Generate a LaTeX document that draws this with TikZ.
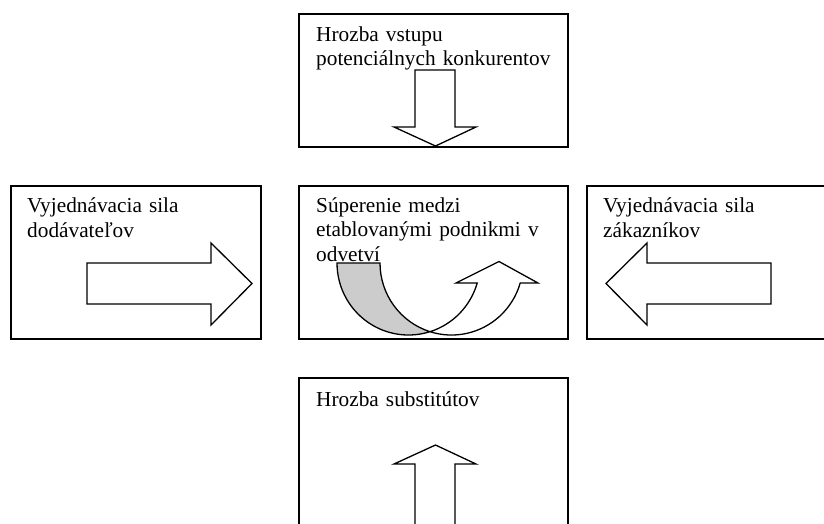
\documentclass[tikz,border=0pt]{standalone}
\usepackage{fontspec}
\setmainfont{Liberation Serif}
\definecolor{bandgray}{RGB}{204,204,204}
\begin{document}
\begin{tikzpicture}[x=1pt,y=-1pt,
  box/.style={draw, line width=2pt, inner sep=0pt, anchor=north west},
  label/.style={anchor=base west, inner sep=0pt, align=left, text width=262pt,
    font=\fontsize{21.3}{24.5}\selectfont},
  blockarrow/.style={draw, line width=1.3pt, fill=white, line join=miter},
]
\clip (0,0) rectangle (824,523);

% the five forces as framed boxes
\node[box, minimum width=269pt, minimum height=133pt] (entrants)  at (298,13)  {};
\node[box, minimum width=250pt, minimum height=153pt] (suppliers) at (10,185)  {};
\node[box, minimum width=269pt, minimum height=153pt] (rivalry)   at (298,185) {};
\node[box, minimum width=250pt, minimum height=153pt] (buyers)    at (586,185) {};
\node[box, minimum width=269pt, minimum height=170pt] (substitutes) at (298,377) {};

% captions
\node[label] (tEntrants)    at (316,41)    {Hrozba vstupu\\potenciálnych konkurentov};
\node[label] (tSuppliers)   at (27,212.5)  {Vyjednávacia sila\\dodávateľov};
\node[label] (tRivalry)     at (316,212)   {Súperenie medzi\\etablovanými podnikmi v\\odvetví};
\node[label] (tBuyers)      at (603,212.5) {Vyjednávacia sila\\zákazníkov};
\node[label] (tSubstitutes) at (316,406)   {Hrozba substitútov};

% block arrows
\draw[blockarrow] (415,70) -- (455,70) -- (455,127) -- (476,127) -- (435.5,146)
  -- (394,127) -- (415,127) -- cycle;
\draw[blockarrow] (415,540) -- (415,464) -- (394,464) -- (435.5,445) -- (476,464)
  -- (455,464) -- (455,540) -- cycle;
\draw[blockarrow] (87,263) -- (211,263) -- (211,243) -- (252,283.5) -- (211,325)
  -- (211,304) -- (87,304) -- cycle;
\draw[blockarrow] (771,263) -- (647,263) -- (647,243) -- (606,283.5) -- (647,325)
  -- (647,304) -- (771,304) -- cycle;

% curved up arrow: shaded back band, then the front band with its head
\draw[line width=1.3pt, fill=bandgray] (337,263)
  arc[start angle=180, end angle=72.5, x radius=71.5, y radius=72]
  arc[start angle=107.5, end angle=180, x radius=71.5, y radius=72] -- cycle;
\draw[blockarrow] (430,331.7)
  arc[start angle=107.5, end angle=16.1, x radius=71.5, y radius=72]
  -- (538,283) -- (499,261.5) -- (456,283) -- (477.2,283)
  arc[start angle=16.1, end angle=72.5, x radius=71.5, y radius=72] -- cycle;
\end{tikzpicture}
\end{document}
